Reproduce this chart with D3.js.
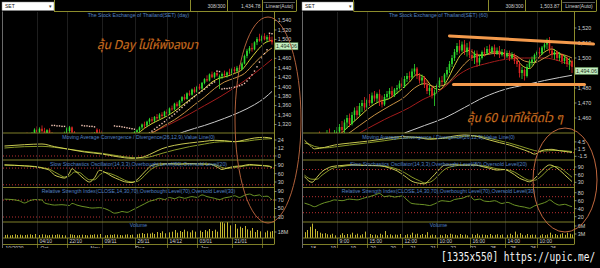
<!DOCTYPE html>
<html>
<head>
<meta charset="utf-8">
<script src="https://cdn.jsdelivr.net/npm/d3@7"></script>
<style>
  body { margin: 0; background: #000; }
  svg { display: block; font-family: "Liberation Sans", Arial, sans-serif; }
</style>
</head>
<body>
<svg id="chart" width="600" height="268"></svg>
<script>
// ---------- daily chart (left) ----------
// [open, high, low, close]
const dayBars = [
  [1290,1298,1285,1294],[1294,1299,1288,1291],[1291,1296,1284,1288],[1288,1295,1282,1293],[1293,1300,1289,1297],
  [1297,1302,1292,1295],[1295,1299,1287,1290],[1290,1297,1286,1296],[1296,1301,1291,1299],[1299,1303,1294,1297],
  [1297,1302,1292,1300],[1300,1304,1295,1302],[1302,1312,1298,1309],[1309,1316,1301,1304],[1304,1314,1300,1311],
  [1311,1318,1303,1306],[1306,1313,1299,1301],[1301,1310,1296,1308],[1308,1312,1298,1300],[1300,1304,1290,1294],
  [1294,1299,1286,1290],[1290,1297,1284,1295],[1295,1301,1289,1293],[1293,1300,1287,1298],[1298,1305,1292,1302],
  [1302,1315,1299,1312],[1306,1317,1302,1314],[1314,1316,1300,1303],[1303,1306,1292,1296],[1296,1301,1288,1292],
  [1292,1298,1285,1290],[1290,1296,1283,1294],[1294,1299,1288,1292],[1292,1297,1286,1295],[1295,1301,1290,1298],
  [1298,1303,1292,1296],[1296,1304,1291,1301],[1309,1312,1297,1302],[1302,1310,1294,1297],[1297,1307,1290,1294],
  [1294,1298,1286,1290],[1290,1296,1282,1288],[1288,1294,1280,1292],[1292,1298,1286,1290],[1290,1295,1283,1287],
  [1287,1293,1280,1291],[1291,1297,1286,1294],[1294,1300,1288,1292],[1292,1298,1285,1296],[1296,1301,1290,1293],
  [1293,1299,1288,1298],[1298,1303,1292,1300],[1300,1306,1295,1304],[1304,1310,1299,1308],[1308,1316,1303,1314],
  [1314,1322,1310,1320],[1320,1326,1312,1318],[1318,1328,1315,1326],[1326,1334,1321,1331],[1331,1336,1324,1328],
  [1328,1338,1325,1336],[1336,1342,1330,1333],[1333,1344,1331,1341],[1341,1346,1334,1338],[1338,1349,1336,1347],
  [1347,1352,1340,1343],[1343,1356,1341,1354],[1354,1360,1349,1352],[1352,1366,1350,1364],[1364,1368,1356,1359],
  [1359,1372,1357,1370],[1370,1380,1366,1378],[1378,1384,1371,1374],[1374,1388,1372,1386],[1386,1392,1380,1383],
  [1383,1396,1381,1394],[1394,1399,1386,1389],[1389,1402,1387,1400],[1400,1406,1393,1396],[1396,1410,1394,1408],
  [1408,1418,1405,1416],[1416,1424,1410,1413],[1413,1428,1411,1426],[1426,1432,1418,1420],[1420,1431,1417,1429],
  [1429,1433,1421,1424],[1418,1426,1395,1422],[1422,1430,1416,1427],[1427,1434,1420,1424],[1424,1432,1419,1430],
  [1430,1438,1425,1428],[1428,1440,1426,1437],[1437,1442,1429,1433],[1433,1444,1430,1440],[1440,1446,1434,1437],
  [1437,1452,1435,1449],[1449,1468,1447,1465],[1465,1480,1460,1476],[1476,1486,1470,1482],[1482,1492,1474,1479],
  [1479,1496,1477,1494],[1494,1505,1488,1501],[1501,1512,1495,1497],[1497,1510,1493,1507],[1507,1513,1498,1500],
  [1500,1509,1494,1505],[1505,1511,1496,1499],[1499,1506,1489,1494.06]
];
// moving averages, [bar, value]
const dayMaFast = [[50,1294],[53,1300],[56,1312],[59,1322],[62,1330],[65,1338],[68,1348],[71,1360],[74,1372],[77,1384],[80,1396],[83,1410],[86,1418],[89,1422],[92,1428],[95,1436],[98,1456],[101,1476],[104,1492],[107,1498]];
const dayMaMid = [[50,1288],[56,1295],[60,1305],[64,1318],[68,1330],[72,1345],[76,1362],[80,1378],[84,1396],[88,1410],[92,1418],[96,1428],[100,1450],[104,1470],[107,1482]];
const dayMaSlow = [[58,1300],[60,1305],[67,1323],[74,1342],[80,1360],[86,1378],[92,1398],[98,1420],[104,1445],[107,1458]];
const dayMaLong = [[70,1301],[72,1305],[80,1318],[88,1333],[94,1346],[100,1362],[104,1376],[107,1390]];
const daySar = [
  [19,1318],[20,1318],[21,1317],[22,1317],[23,1316],[24,1316],
  [31,1318],[32,1317],[33,1317],[34,1316],[35,1316],[36,1315],
  [44,1317],[45,1316],[46,1316],[47,1315],[48,1314],[49,1313],[50,1312],[51,1311],[52,1310],
  [56,1296],[57,1298],[58,1302],[59,1306],[60,1310],[61,1314],[62,1318],[63,1322],[64,1326],[65,1330],
  [66,1334],[67,1338],[68,1342],[69,1347],[70,1351],[71,1356],[72,1361],[73,1366],[74,1370],[75,1375],
  [76,1379],[77,1383],[78,1387],[79,1391],[80,1395],[81,1399],[82,1403],[83,1407],[84,1410],
  [85,1433],[86,1432],
  [87,1395],[88,1396],[89,1396],[90,1397],[91,1398],[92,1399],[93,1400],[94,1402],[95,1404],[96,1407],
  [97,1412],[98,1418],[99,1425],[100,1433],[101,1442],[102,1452],[103,1461],[104,1470],[105,1478],
  [106,1513],[107,1512]
];
const dayMacd = [[0,15],[8,17],[15,18],[20,14],[26,10],[32,6],[39,3],[45,-1],[51,-3.5],[55,-2],[59,4],[63,11],[68,16],[74,19.5],[80,22],[84,23.5],[88,23],[92,21.5],[96,24],[100,27],[104,28],[107,26.5]];
const daySignal = [[0,12],[8,14],[15,14.5],[20,13],[26,10],[32,7],[39,4],[45,0.5],[51,-2.5],[55,-3],[59,-0.5],[63,4],[68,9],[74,14],[80,18],[84,20.5],[88,21.5],[92,21.5],[96,22],[100,24],[104,25.5],[107,26]];
const dayStochK = [[0,92],[4,90],[8,88],[12,85],[16,78],[18,72],[20,55],[22,48],[24,44],[26,62],[27,78],[28,72],[30,56],[32,40],[34,30],[36,45],[38,72],[40,66],[43,50],[46,38],[48,31],[51,28],[53,38],[55,56],[57,75],[59,90],[62,95],[66,96],[70,94],[74,96],[78,95],[82,94],[85,84],[87,75],[89,80],[92,86],[95,88],[98,93],[101,90],[104,88],[106,86],[107,80]];
const dayStochD = [[0,90],[4,90],[8,88],[12,86],[16,80],[18,76],[20,66],[22,56],[24,48],[26,52],[28,66],[30,64],[32,50],[34,38],[36,38],[38,55],[40,64],[43,58],[46,46],[48,37],[51,30],[53,32],[55,44],[57,62],[59,78],[62,90],[66,95],[70,95],[74,95],[78,95],[82,94],[85,90],[87,82],[89,79],[92,82],[95,86],[98,90],[101,91],[104,89],[106,87],[107,84]];
const dayRsi = [[0,72],[3,71],[6,68],[8,63],[10,68],[12,71],[15,70],[16,63],[18,60],[20,58],[23,59],[26,57],[27,62],[29,58],[31,55],[33,53],[35,51],[38,52],[40,50],[42,45],[44,39],[46,41],[47,43],[49,41],[51,46],[54,55],[56,61],[58,67],[60,70],[62,74],[64,71],[66,76],[68,73],[70,77],[72,74],[75,78],[77,76],[79,82],[81,78],[84,74],[86,71],[88,75],[90,77],[92,80],[94,76],[96,81],[98,84],[100,80],[102,82],[103,78],[105,79],[107,70]];
// volume in millions
const dayVolume = [
  9,10,8,9,11,9,10,8,9,10, 11,9,12,10,9,11,10,8,9,10, 9,11,10,9,8,12,11,10,9,8,
  9,10,9,8,10,9,11,10,12,9, 8,9,10,9,11,10,9,8,10,11, 9,10,12,11,13,15,12,14,13,16,
  12,18,15,20,14,22,17,19,24,16, 21,18,25,20,17,23,19,26,22,18, 24,20,27,21,25,19,48,52,44,50,
  38,46,42,28,34,30,36,26,22,30, 18,24,20,26,17,22,19,21
];
const dayGrid = [13,25,39,52,65,77,91,103];
const dayDates = ['04/10','22/10','09/11','26/11','14/12','03/01','21/01'];
const dayRow2 = [[0,'10/2020'],[14,'Oct'],[34,'Nov'],[52,'Dec'],[78,'Jan']];

// ---------- 60 minute chart (right) ----------
const hourBars = [
  [1442,1447,1436,1440],[1440,1446,1434,1444],[1444,1449,1439,1441],[1441,1445,1435,1438],[1438,1444,1432,1442],
  [1442,1448,1438,1446],[1446,1451,1440,1443],[1443,1447,1437,1439],[1439,1445,1434,1444],[1444,1452,1441,1449],
  [1449,1453,1443,1445],[1445,1450,1440,1447],[1447,1452,1442,1449],[1449,1454,1445,1451],[1451,1456,1448,1454],
  [1454,1458,1449,1452],[1452,1459,1450,1457],[1457,1462,1453,1460],[1460,1463,1454,1456],[1456,1464,1455,1462],
  [1462,1467,1458,1465],[1465,1468,1460,1462],[1462,1470,1461,1468],[1468,1472,1464,1470],[1470,1474,1465,1467],
  [1467,1473,1466,1472],[1472,1476,1468,1470],[1470,1477,1469,1475],[1475,1478,1471,1473],[1473,1477,1470,1476],
  [1476,1479,1468,1471],[1471,1475,1467,1469],[1469,1476,1468,1474],[1474,1478,1472,1476],[1476,1480,1473,1478],
  [1478,1481,1474,1475],[1475,1480,1474,1479],[1479,1482,1476,1480],[1480,1485,1479,1483],[1483,1487,1480,1481],
  [1481,1488,1480,1486],[1486,1490,1484,1488],[1488,1491,1485,1487],[1487,1493,1486,1491],[1491,1496,1489,1493],
  [1493,1494,1486,1488],[1488,1490,1483,1485],[1485,1489,1482,1487],[1487,1488,1480,1482],[1482,1485,1476,1478],
  [1478,1482,1475,1480],[1480,1481,1473,1475],[1475,1479,1468,1477],[1477,1483,1476,1482],[1482,1487,1480,1485],
  [1485,1488,1482,1484],[1484,1490,1483,1489],[1489,1494,1487,1492],[1492,1498,1490,1496],[1496,1502,1494,1500],
  [1500,1506,1498,1504],[1504,1510,1502,1508],[1508,1512,1503,1505],[1505,1511,1504,1509],[1509,1512,1502,1504],
  [1504,1510,1501,1507],[1507,1511,1500,1502],[1502,1506,1498,1500],[1500,1505,1496,1503],[1503,1505,1494,1497],
  [1497,1502,1495,1500],[1500,1505,1499,1504],[1504,1507,1501,1503],[1503,1508,1502,1506],[1506,1509,1502,1504],
  [1504,1508,1503,1507],[1507,1509,1501,1503],[1503,1507,1502,1505],[1505,1508,1500,1502],[1502,1506,1501,1504],
  [1504,1506,1499,1501],[1501,1505,1500,1503],[1503,1505,1498,1500],[1500,1504,1499,1502],[1502,1503,1496,1498],
  [1498,1501,1494,1496],[1496,1498,1487,1490],[1490,1494,1486,1492],[1492,1493,1485,1488],[1488,1496,1487,1494],
  [1494,1499,1493,1497],[1497,1501,1495,1499],[1499,1503,1497,1502],[1502,1505,1500,1504],[1504,1507,1501,1503],
  [1503,1508,1502,1507],[1507,1510,1505,1509],[1509,1513,1506,1511],[1511,1514,1503,1505],[1505,1508,1500,1502],
  [1502,1506,1499,1504],[1504,1505,1498,1500],[1500,1504,1498,1502],[1502,1503,1496,1498],[1498,1502,1496,1500],
  [1500,1501,1494,1496],[1496,1500,1492,1498],[1498,1499,1490,1494.06]
];
const hourMaFast = [[10,1446],[14,1449],[18,1455],[22,1461],[26,1467],[30,1471],[34,1473],[38,1478],[42,1484],[45,1489],[48,1487],[51,1481],[54,1479],[57,1485],[60,1495],[63,1503],[66,1505],[69,1502],[72,1502],[75,1504],[78,1504],[81,1502],[84,1501],[87,1495],[90,1493],[93,1499],[96,1504],[99,1506],[102,1503],[105,1500],[107,1497]];
const hourMaMid = [[10,1443],[16,1448],[22,1455],[28,1462],[34,1468],[40,1474],[44,1480],[48,1483],[52,1481],[56,1482],[60,1488],[64,1496],[68,1501],[72,1502],[76,1503],[80,1503],[84,1502],[88,1498],[92,1497],[96,1500],[100,1503],[104,1502],[107,1500]];
const hourMaSlow = [[22,1450],[32,1459],[42,1467],[47,1472],[52,1476],[57,1482],[61,1488],[66,1493],[72,1496],[80,1499],[88,1500],[96,1500],[102,1498],[107,1495]];
const hourMaLong = [[40,1450],[48,1455],[56,1460],[64,1467],[72,1474],[80,1479],[88,1482],[96,1485],[102,1487],[107,1488.5]];
const hourMacd = [[0,5.2],[2,3.2],[4,1.6],[8,2.2],[12,3.2],[18,4],[26,4.9],[32,5.8],[39,6.7],[45,6.4],[50,5.6],[54,5.9],[59,6.8],[64,7.4],[68,7],[74,5.3],[78,4.2],[82,3.2],[86,1.8],[90,0.3],[92,-0.6],[94,0.4],[96,1.2],[99,1.4],[102,0.8],[105,0.4],[107,0.1]];
const hourSignal = [[0,4],[2,3.5],[4,2.6],[8,2],[12,2.4],[18,3.2],[26,4.2],[32,5],[39,6],[45,6.3],[50,6],[54,5.9],[59,6.2],[64,6.8],[68,7],[74,6],[78,5],[82,4],[86,2.8],[90,1.5],[92,0.9],[94,0.6],[96,0.7],[99,0.9],[102,0.9],[105,0.7],[107,0.5]];
const hourStochK = [[0,52],[3,30],[5,50],[7,72],[9,84],[11,92],[15,96],[19,99],[24,96],[30,95],[34,86],[37,75],[40,55],[43,34],[46,26],[48,24],[50,40],[52,60],[54,82],[56,97],[60,99],[64,97],[68,98],[71,92],[74,85],[77,78],[80,80],[82,72],[84,60],[86,46],[88,38],[90,32],[92,44],[94,66],[96,86],[98,98],[100,92],[102,78],[104,60],[106,42],[107,33]];
const hourStochD = [[0,58],[3,42],[5,42],[7,58],[9,72],[11,84],[15,92],[19,97],[24,97],[30,95],[34,90],[37,82],[40,68],[43,50],[46,36],[48,28],[50,30],[52,42],[54,62],[56,80],[60,94],[64,98],[68,97],[71,95],[74,90],[77,83],[80,80],[82,77],[84,70],[86,58],[88,46],[90,38],[92,38],[94,48],[96,66],[98,84],[100,92],[102,88],[104,74],[106,58],[107,50]];
const hourRsi = [[0,54],[2,50],[4,45],[6,50],[8,55],[10,58],[12,62],[15,60],[18,64],[21,62],[24,67],[26,70],[28,74],[30,78],[32,70],[34,72],[36,69],[39,72],[41,62],[43,53],[46,51],[48,50],[50,48],[52,52],[55,60],[58,58],[60,63],[63,66],[66,72],[68,62],[70,64],[72,59],[74,58],[76,60],[79,53],[81,56],[84,49],[86,46],[88,44],[90,41],[92,47],[95,53],[97,58],[98,62],[100,54],[102,49],[104,51],[106,47],[107,45]];
const hourVolume = [
  2.2,3.0,4.2,5.4,3.4,2.6,2.0,1.6,1.8,1.4, 1.2,1.6,1.0,1.4,1.2,1.8,1.1,1.5,1.3,2.0,
  1.2,1.6,1.0,1.4,2.4,1.2,1.5,1.1,1.3,1.0, 1.6,1.2,2.6,1.1,1.4,1.0,1.3,1.2,1.5,1.7,
  1.1,1.4,1.2,2.0,1.3,1.6,1.1,1.5,1.2,2.2, 1.0,1.3,1.1,1.5,1.2,1.0,1.4,1.1,1.6,1.3,
  1.2,1.0,1.5,1.1,1.3,1.0,1.2,1.4,1.1,1.6, 1.0,1.3,1.2,1.1,1.5,1.0,1.2,1.4,1.1,1.3,
  1.0,1.2,1.6,1.1,2.4,1.3,1.8,1.2,1.0,1.5, 1.1,1.3,1.2,1.6,1.0,1.4,1.1,1.3,2.0,1.2,
  1.5,1.1,1.4,1.8,1.2,2.0,1.6,1.3
];
const hourGrid = [13,25,39,53,66,80,93];
const hourTimes = ['9:00','15:00','12:00','10:00','16:00','14:00','10:00'];
const hourRow2 = [[2,'18'],[10,'19'],[18,'19'],[26,'20'],[34,'20'],[42,'21'],[50,'21'],[58,'22'],[66,'22'],[74,'25'],[82,'25'],[90,'26'],[98,'26']];
// hand drawn channel lines on the 60 min chart, [bar, price]
const hourTopLine = [[58,1514.7],[115.6,1509.3]];
const hourBottomLine = [[59.6,1482.3],[112,1482.3]];

const svg = d3.select('#chart');
const defs = svg.append('defs');
svg.append('rect').attr('width', 600).attr('height', 268).attr('fill', '#000');

const OLIVE = '#8c8c2c';
const LABEL = '#cfcfcf';
const TITLE = '#5282c4';

function drawSide(s) {
  const L = s.left, R = L + 271;
  const mid = (L + R) / 2;
  const g = svg.append('g');
  const x = d3.scaleLinear().domain([0, 107]).range([L + 1.5, L + 1.5 + 107 * 2.5]);

  const panels = {
    price: { top: 12, bottom: 133 },
    macd: { top: 133, bottom: 160 },
    stoch: { top: 160, bottom: 187.5 },
    rsi: { top: 187.5, bottom: 222 },
    vol: { top: 222, bottom: 238 }
  };
  for (const k in panels) {
    const p = panels[k];
    p.id = 'clip-' + s.name + '-' + k;
    defs.append('clipPath').attr('id', p.id).append('rect')
      .attr('x', L).attr('y', p.top).attr('width', R - L).attr('height', p.bottom - p.top);
    p.g = g.append('g').attr('clip-path', `url(#${p.id})`);
  }

  // vertical grid
  g.selectAll('line.grid').data(s.grid).enter().append('line')
    .attr('class', 'grid')
    .attr('x1', d => Math.round(x(d)) + 0.5).attr('x2', d => Math.round(x(d)) + 0.5)
    .attr('y1', 12).attr('y2', 238)
    .attr('stroke', '#1e1e1e');

  // ---- price ----
  const yp = s.yPrice;
  const pg = panels.price.g;
  const line = (ys) => d3.line().x(d => x(d[0])).y(d => ys(d[1])).curve(d3.curveMonotoneX);
  const addLine = (pgrp, data, ys, color, w) => pgrp.append('path').datum(data)
    .attr('d', line(ys)).attr('fill', 'none').attr('stroke', color).attr('stroke-width', w || 1);

  addLine(pg, s.maLong, yp, '#c8c8c8');
  addLine(pg, s.maSlow, yp, '#a41c1c');
  addLine(pg, s.maMid, yp, '#c89244');
  addLine(pg, s.maFast, yp, '#d8d23a');

  const bars = pg.selectAll('g.bar').data(s.bars).enter().append('g');
  bars.append('line')
    .attr('x1', (d, i) => x(i)).attr('x2', (d, i) => x(i))
    .attr('y1', d => yp(d[1])).attr('y2', d => yp(d[2]))
    .attr('stroke', d => d[3] >= d[0] ? '#2ee02e' : '#e42424').attr('stroke-width', 0.8);
  bars.append('rect')
    .attr('x', (d, i) => x(i) - 0.8).attr('width', 1.6)
    .attr('y', d => yp(Math.max(d[0], d[3])))
    .attr('height', d => Math.max(1, Math.abs(yp(d[0]) - yp(d[3]))))
    .attr('fill', d => d[3] >= d[0] ? '#2ee02e' : '#e42424');

  if (s.sar) {
    pg.selectAll('rect.sar').data(s.sar).enter().append('rect')
      .attr('x', d => x(d[0]) - 0.7).attr('y', d => yp(d[1]) - 0.7)
      .attr('width', 1.4).attr('height', 1.4).attr('fill', '#f4c6b6');
  }

  // ---- indicators ----
  const levels = (pgrp, ys, vals) => pgrp.selectAll(null).data(vals).enter().append('line')
    .attr('x1', L).attr('x2', R).attr('y1', d => ys(d)).attr('y2', d => ys(d))
    .attr('stroke', '#b83030').attr('stroke-dasharray', '1,2');

  levels(panels.macd.g, s.yMacd, [0]);
  addLine(panels.macd.g, s.signal, s.yMacd, '#98aa2c', 0.9);
  addLine(panels.macd.g, s.macd, s.yMacd, '#dede5a', 0.9);

  levels(panels.stoch.g, s.yStoch, [20, 80]);
  addLine(panels.stoch.g, s.stochD, s.yStoch, '#98aa2c', 0.9);
  addLine(panels.stoch.g, s.stochK, s.yStoch, '#dede5a', 0.9);

  levels(panels.rsi.g, s.yRsi, [30, 70]);
  addLine(panels.rsi.g, s.rsi, s.yRsi, '#78a42a', 0.9);

  panels.vol.g.selectAll('line.v').data(s.volume).enter().append('line')
    .attr('x1', (d, i) => Math.round(x(i)) + 0.5).attr('x2', (d, i) => Math.round(x(i)) + 0.5)
    .attr('y1', 238).attr('y2', d => s.yVol(d))
    .attr('stroke', '#c4b62e').attr('stroke-width', 1);

  // panel titles
  const titles = [
    [17.3, s.title],
    [139, 'Moving Average Convergence / Divergence(26,12,9),Value Line(0)'],
    [166, 'Slow Stochastics Oscillator(14,3,3),Overbought Level(80),Oversold Level(20)'],
    [193, 'Relative Strength Index(CLOSE,14,30,70),Overbought Level(70),Oversold Level(30)'],
    [226.6, 'Volume']
  ];
  g.selectAll('text.title').data(titles).enter().append('text')
    .attr('x', mid).attr('y', d => d[0]).attr('text-anchor', 'middle')
    .attr('font-size', 5.2).attr('fill', TITLE).text(d => d[1]);

  // separators and axis line
  g.selectAll('line.sep').data([133, 160, 187.5, 222, 238, 244.5]).enter().append('line')
    .attr('x1', L).attr('x2', R).attr('y1', d => d).attr('y2', d => d)
    .attr('stroke', OLIVE).attr('stroke-width', 0.9);
  g.append('line').attr('x1', R + 0.5).attr('x2', R + 0.5).attr('y1', 11.5).attr('y2', 244.5)
    .attr('stroke', OLIVE);
  g.append('line').attr('x1', L - 0.5).attr('x2', L - 0.5).attr('y1', 11.5).attr('y2', 248)
    .attr('stroke', '#6a6a6a');

  // last price, its box hides the tick label underneath
  const last = s.bars[s.bars.length - 1][3];
  const by = yp(last) + 4;

  // right axis ticks
  const axisTicks = (ys, vals, fmt, dy) => {
    const t = g.append('g').selectAll('g').data(vals).enter().append('g')
      .attr('transform', d => `translate(${R},${ys(d) + (dy || 0)})`);
    t.append('line').attr('x1', 0.5).attr('x2', 2.5).attr('stroke', LABEL).attr('stroke-width', 0.6);
    t.append('text').attr('x', 3.8).attr('dy', '0.35em').attr('font-size', 5.4)
      .attr('fill', LABEL).text(fmt);
  };
  axisTicks(yp, s.priceTicks.filter(v => Math.abs(yp(v) - by) > 6), d3.format(','));
  axisTicks(s.yMacd, s.macdTicks, d => d);
  axisTicks(s.yStoch, [30, 60, 90], d => d);
  axisTicks(s.yRsi, s.rsiTicks, d => d);
  axisTicks(s.yVol, s.volTicks, d => d + 'M', s.volDy);

  g.append('rect').attr('x', R + 1).attr('y', by - 3.6).attr('width', 23).attr('height', 7.2)
    .attr('fill', '#c6eec2').attr('stroke', '#4a7a40').attr('stroke-width', 0.5);
  g.append('text').attr('x', R + 12.5).attr('y', by).attr('dy', '0.35em')
    .attr('text-anchor', 'middle').attr('font-size', 5.4).attr('fill', '#203020')
    .text(d3.format(',.2f')(last));

  // time axis
  g.selectAll('line.tg').data(s.grid).enter().append('line')
    .attr('x1', d => Math.round(x(d)) + 0.5).attr('x2', d => Math.round(x(d)) + 0.5)
    .attr('y1', 238).attr('y2', 248).attr('stroke', OLIVE).attr('stroke-width', 0.7);
  g.selectAll('text.tl').data(s.timeLabels).enter().append('text')
    .attr('x', (d, i) => Math.round(x(s.grid[i])) + 2.5).attr('y', 243.2)
    .attr('font-size', 5).attr('fill', LABEL).text(d => d);
  g.selectAll('text.t2').data(s.row2).enter().append('text')
    .attr('x', d => x(d[0]) + 1).attr('y', 250.2)
    .attr('font-size', 5).attr('fill', LABEL).text(d => d[1]);

  // header
  const hg = g.append('g');
  hg.append('rect').attr('x', L - 1).attr('y', 2).attr('width', 52).attr('height', 8.5)
    .attr('fill', '#fff').attr('stroke', '#888').attr('stroke-width', 0.5);
  hg.append('text').attr('x', L + 2).attr('y', 8.2).attr('font-size', 5).attr('fill', '#111').text('SET');
  hg.append('text').attr('x', L + 47).attr('y', 8.4).attr('font-size', 5).attr('fill', '#333')
    .attr('text-anchor', 'middle').text('▾');
  hg.append('line').attr('x1', L + 51).attr('x2', L + 293).attr('y1', 11.5).attr('y2', 11.5)
    .attr('stroke', OLIVE);
  hg.selectAll('line.hs').data(s.headerSeps).enter().append('line')
    .attr('x1', d => d + 0.5).attr('x2', d => d + 0.5).attr('y1', 0).attr('y2', 11.5)
    .attr('stroke', OLIVE);
  hg.append('line').attr('x1', s.headerSeps[3] + 1.5).attr('x2', s.headerSeps[4] - 1)
    .attr('y1', 2.5).attr('y2', 2.5).attr('stroke', '#9a9a9a').attr('stroke-width', 0.6);
  hg.append('text').attr('x', s.headerSeps[2] - 1.5).attr('y', 8).attr('text-anchor', 'end')
    .attr('font-size', 5).attr('fill', LABEL).text('308/300');
  hg.append('text').attr('x', s.headerSeps[3] - 1.5).attr('y', 8).attr('text-anchor', 'end')
    .attr('font-size', 5).attr('fill', LABEL).text(s.headerPrice);
  hg.append('text').attr('x', (s.headerSeps[3] + s.headerSeps[4]) / 2 + 0.5).attr('y', 8)
    .attr('text-anchor', 'middle').attr('font-size', 5).attr('fill', LABEL).text('Linear(Auto)');

  return { x, yp };
}

drawSide({
  name: 'day', left: 3,
  bars: dayBars, sar: daySar,
  maFast: dayMaFast, maMid: dayMaMid, maSlow: dayMaSlow, maLong: dayMaLong,
  macd: dayMacd, signal: daySignal, stochK: dayStochK, stochD: dayStochD, rsi: dayRsi, volume: dayVolume,
  yPrice: d3.scaleLinear().domain([1320, 1540]).range([124.5, 20.5]),
  yMacd: d3.scaleLinear().domain([0, 24]).range([156, 140]),
  yStoch: d3.scaleLinear().domain([30, 90]).range([182, 165.3]),
  yRsi: d3.scaleLinear().domain([30, 90]).range([217, 191.5]),
  yVol: d3.scaleLinear().domain([0, 18]).range([238, 232]),
  priceTicks: d3.range(1320, 1541, 20), macdTicks: [0, 12, 24], rsiTicks: [30, 50, 70, 90],
  volTicks: [18], volDy: 0,
  grid: dayGrid, timeLabels: dayDates, row2: dayRow2,
  title: 'The Stock Exchange of Thailand(SET) (day)',
  headerSeps: [54, 190, 227, 262, 296], headerPrice: '1,434.78'
});

const right = drawSide({
  name: 'hour', left: 303,
  bars: hourBars, sar: null,
  maFast: hourMaFast, maMid: hourMaMid, maSlow: hourMaSlow, maLong: hourMaLong,
  macd: hourMacd, signal: hourSignal, stochK: hourStochK, stochD: hourStochD, rsi: hourRsi, volume: hourVolume,
  yPrice: d3.scaleLinear().domain([1460, 1520]).range([118, 28]),
  yMacd: d3.scaleLinear().domain([-1.5, 4.5]).range([156.3, 141.9]),
  yStoch: d3.scaleLinear().domain([30, 90]).range([182.3, 167]),
  yRsi: d3.scaleLinear().domain([20, 80]).range([216.7, 192.7]),
  yVol: d3.scaleLinear().domain([0, 6]).range([238, 222]),
  priceTicks: d3.range(1460, 1521, 10), macdTicks: [-1.5, 1.5, 4.5], rsiTicks: [20, 40, 60, 80],
  volTicks: [3, 6], volDy: 4,
  grid: hourGrid, timeLabels: hourTimes, row2: hourRow2,
  title: 'The Stock Exchange of Thailand(SET) (60)',
  headerSeps: [353, 488, 525, 561, 596], headerPrice: '1,503.87'
});

// cut-off bottom of the screenshot
svg.append('rect').attr('x', 0).attr('y', 248).attr('width', 600).attr('height', 20).attr('fill', '#000');

// hand drawn annotations
const ann = svg.append('g');
[hourTopLine, hourBottomLine].forEach(l => {
  ann.append('line')
    .attr('x1', right.x(l[0][0])).attr('y1', right.yp(l[0][1]))
    .attr('x2', right.x(l[1][0])).attr('y2', right.yp(l[1][1]))
    .attr('stroke', '#f49a4c').attr('stroke-width', 3).attr('stroke-linecap', 'round');
});
ann.append('ellipse').attr('cx', 268).attr('cy', 120).attr('rx', 33).attr('ry', 103)
  .attr('fill', 'none').attr('stroke', '#b0603a').attr('stroke-width', 1);
ann.append('ellipse').attr('cx', 565).attr('cy', 180).attr('rx', 32).attr('ry', 52)
  .attr('fill', 'none').attr('stroke', '#c0683e').attr('stroke-width', 1);

const thai = [
  { x: 97, y: 49, w: 101, t: 'ลุ้น Day ไม่ให้พังลงมา' },
  { x: 467, y: 122, w: 96, t: 'ลุ้น 60 นาทีให้ดีดไว ๆ' }
];
ann.selectAll('text.thai').data(thai).enter().append('text')
  .attr('x', d => d.x).attr('y', d => d.y)
  .attr('textLength', d => d.w).attr('lengthAdjust', 'spacingAndGlyphs')
  .attr('font-size', 12.5).attr('font-style', 'italic')
  .attr('font-family', '"Noto Sans Thai", "Noto Sans", "DejaVu Sans", sans-serif')
  .attr('fill', '#ee8a2e').attr('stroke', '#6a2a00').attr('stroke-width', 0.3)
  .text(d => d.t);

// watermark: narrow mono text stretched vertically
svg.append('text').attr('transform', 'translate(441,261) scale(1,1.3)')
  .attr('font-size', 9.5).attr('font-family', '"DejaVu Sans Mono", monospace')
  .attr('fill', '#f4f4f4').text('[1335x550] https://upic.me/');
</script>
</body>
</html>
